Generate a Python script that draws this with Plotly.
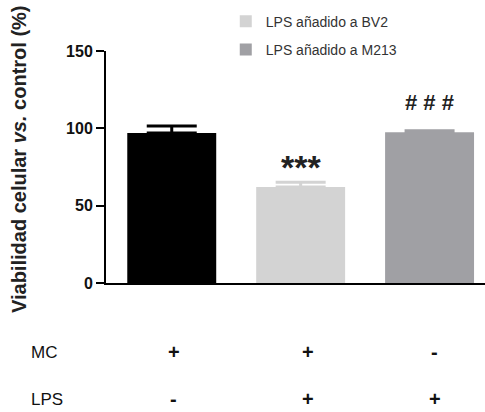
import plotly.graph_objects as go

groups = ["Control", "LPS añadido a BV2", "LPS añadido a M213"]
values = [97, 62, 97.5]
errors = [4.5, 3.2, 1.0]
colors = ["#000000", "#d3d3d3", "#a0a0a4"]
show_legend = [False, True, True]
signif = ["", "***", "# # #"]
mc_row = ["+", "+", "-"]
lps_row = ["-", "+", "+"]

fig = go.Figure()
for i, name in enumerate(groups):
    fig.add_trace(go.Bar(
        x=[i], y=[values[i]], width=0.69, name=name,
        marker=dict(color=colors[i], line=dict(width=0)),
        error_y=dict(type="data", symmetric=False, array=[errors[i]], arrayminus=[0],
                     color=colors[i], thickness=3, width=25),
        showlegend=show_legend[i], legendgroup=name,
    ))

# significance markers
for i, s in enumerate(signif):
    if s:
        star = s == "***"
        fig.add_annotation(x=i, y=values[i] + errors[i], yref="y",
                           text="<b>" + s + "</b>",
                           showarrow=False, yanchor="bottom", yshift=-6 if star else 14,
                           font=dict(family="Liberation Sans, Arial",
                                     size=34 if star else 22, color="#222"))

# bottom table
xshifts = [2, 7, 5]
for row_label, row, ypix in [("MC", mc_row, 352), ("LPS", lps_row, 399)]:
    yp = (283 - ypix) / 232
    fig.add_annotation(x=0, xref="paper", xshift=-77, y=yp, yref="paper", text=row_label,
                       showarrow=False, xanchor="left", yanchor="middle",
                       font=dict(family="Liberation Sans, Arial", size=17, color="#111"))
    for i, s in enumerate(row):
        fig.add_annotation(x=i, xshift=xshifts[i], y=yp, yref="paper", text="<b>" + s + "</b>",
                           showarrow=False, xanchor="center", yanchor="middle",
                           font=dict(family="Liberation Sans, Arial", size=20, color="#111"))

# y title
fig.add_annotation(x=0, xref="paper", xshift=-87, y=(283 - 159) / 232, yref="paper",
                   text="<b>Viabilidad celular <i>vs.</i> control (%)</b>", textangle=-90,
                   showarrow=False, xanchor="center", yanchor="middle",
                   font=dict(family="Liberation Sans, Arial", size=20, color="#222"))

fig.update_layout(
    width=485, height=412,
    margin=dict(l=106, r=0, t=51, b=129),
    plot_bgcolor="white", paper_bgcolor="white",
    barmode="overlay",
    showlegend=True,
    legend=dict(x=0.316, y=1.195, xanchor="left", yanchor="top", tracegroupgap=7,
                font=dict(family="Liberation Sans, Arial", size=14, color="#333"),
                bgcolor="rgba(0,0,0,0)"),
    xaxis=dict(range=[-0.51, 2.43], showline=True, linewidth=2, linecolor="black",
               showticklabels=False, ticks="", showgrid=False, zeroline=False),
    yaxis=dict(range=[0, 150], tickvals=[0, 50, 100, 150], showline=True, linewidth=2,
               linecolor="black", ticks="outside", ticklen=8, tickwidth=2, tickcolor="black",
               showgrid=False, zeroline=False,
               tickfont=dict(family="Liberation Sans, Arial", size=16, color="#111", weight="bold")),
)

fig.write_html("out.html")
